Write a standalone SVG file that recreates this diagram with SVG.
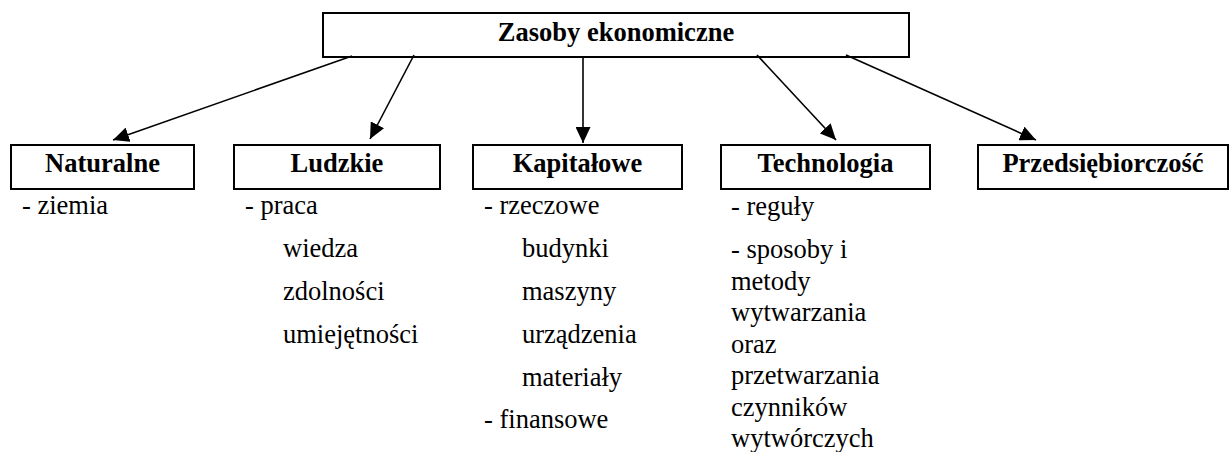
<svg xmlns="http://www.w3.org/2000/svg" width="1229" height="452" viewBox="0 0 1229 452">
<style>
  .box { fill: #fff; stroke: #000; stroke-width: 2; }
  text { font-family: 'Liberation Serif', 'Times New Roman', Tinos, 'DejaVu Serif', serif; font-size: 26.5px; fill: #000; }
  .lbl { font-weight: bold; text-anchor: middle; }
  .conn line { stroke: #000; stroke-width: 1.6; fill: none; marker-end: url(#arr); }
</style>
<defs>
  <marker id="arr" markerUnits="userSpaceOnUse" markerWidth="16" markerHeight="15" refX="16" refY="7.5" orient="auto">
    <path d="M0,0 L16,7.5 L0,15 z" fill="#000"/>
  </marker>
</defs>
<rect width="1229" height="452" fill="#fff"/>
<g id="root">
  <rect class="box" x="323" y="13" width="586" height="44"/>
  <text class="lbl" x="616" y="40.5">Zasoby ekonomiczne</text>
</g>
<g class="conn" id="connectors">
  <line x1="352" y1="56" x2="113" y2="140"/>
  <line x1="414" y1="55" x2="370" y2="139"/>
  <line x1="583" y1="57" x2="583" y2="143"/>
  <line x1="757" y1="55" x2="836" y2="140"/>
  <line x1="846" y1="55" x2="1036" y2="140"/>
</g>
<g id="naturalne">
  <rect class="box" x="11" y="145" width="183" height="44"/>
  <text class="lbl" x="102.5" y="172">Naturalne</text>
  <text x="22" y="214">- ziemia</text>
</g>
<g id="ludzkie">
  <rect class="box" x="234" y="145" width="206" height="44"/>
  <text class="lbl" x="337" y="172">Ludzkie</text>
  <text x="245" y="214">- praca</text>
  <text x="283" y="257">wiedza</text>
  <text x="283" y="300">zdolności</text>
  <text x="283" y="343">umiejętności</text>
</g>
<g id="kapitalowe">
  <rect class="box" x="473" y="145" width="209" height="44"/>
  <text class="lbl" x="577.5" y="172">Kapitałowe</text>
  <text x="484" y="214">- rzeczowe</text>
  <text x="522" y="257">budynki</text>
  <text x="522" y="300">maszyny</text>
  <text x="522" y="343">urządzenia</text>
  <text x="522" y="386">materiały</text>
  <text x="484" y="428">- finansowe</text>
</g>
<g id="technologia">
  <rect class="box" x="721" y="145" width="209" height="44"/>
  <text class="lbl" x="825.5" y="172">Technologia</text>
  <text x="731" y="215">- reguły</text>
  <text x="731" y="258">- sposoby i</text>
  <text x="731" y="289.5">metody</text>
  <text x="731" y="321">wytwarzania</text>
  <text x="731" y="352.5">oraz</text>
  <text x="731" y="384">przetwarzania</text>
  <text x="731" y="415.5">czynników</text>
  <text x="731" y="447">wytwórczych</text>
</g>
<g id="przedsiebiorczosc">
  <rect class="box" x="978" y="145" width="250" height="44"/>
  <text class="lbl" x="1103" y="172">Przedsiębiorczość</text>
</g>
</svg>
